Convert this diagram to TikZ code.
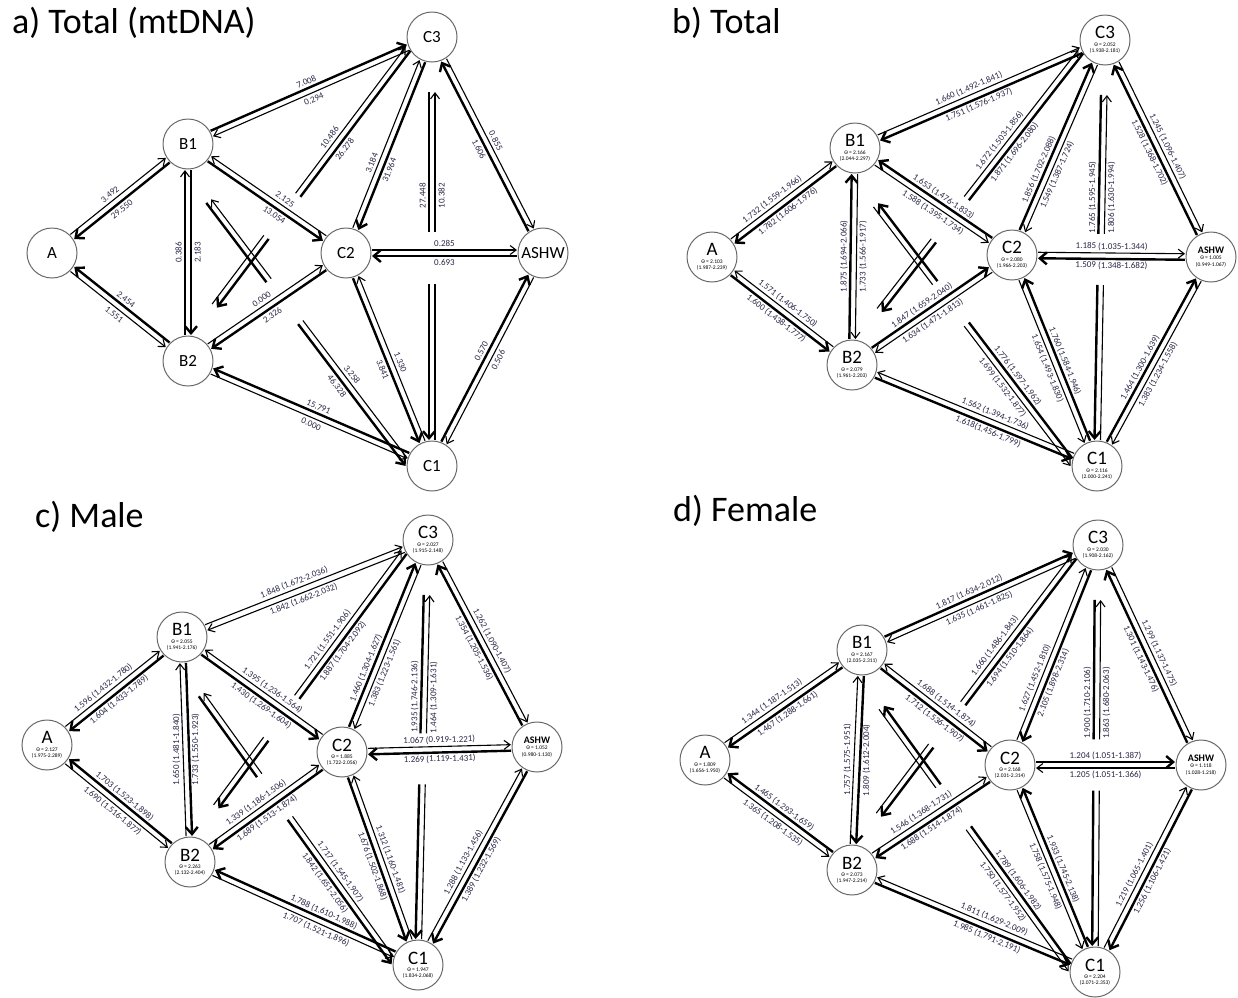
\documentclass[tikz,border=0pt]{standalone}
\usepackage{fontspec}
\setmainfont{Carlito}
\usetikzlibrary{calc,arrows.meta}
\definecolor{labcol}{RGB}{40,40,72}
\definecolor{ncol}{RGB}{105,105,105}
\tikzset{
  nda/.style={circle, draw=ncol, line width=1pt, minimum size=50pt, inner sep=0pt, font=\fontsize{17}{17}\selectfont},
  ndb/.style={circle, draw=ncol, line width=1pt, minimum size=50pt, inner sep=0pt, align=center, font=\fontsize{5.5}{6.3}\selectfont},
  lab/.style={font=\fontsize{9}{9}\selectfont, text=labcol, inner sep=0pt},
  labo/.style={sloped},
  thn/.style={line width=1.1pt, -{Straight Barb[length=6pt,width=9pt]}, shorten <=26pt, shorten >=26pt},
  thk/.style={line width=2.4pt, -{Straight Barb[length=7pt,width=12pt]}, shorten <=26pt, shorten >=26pt},
  ttl/.style={font=\fontsize{36}{36}\selectfont, anchor=base west, inner sep=0pt},
}
\def\gsh{0}
\newcommand\arr[6]{%
  \draw[#4] ($(#1)!#3*3pt!90:(#2)$) -- ($(#2)!#3*3pt!-90:(#1)$);
  \path ($(#1)!#3*9.5pt!90:(#2)$) -- node[lab,labo,pos=#6]{#5} ($(#2)!#3*9.5pt!-90:(#1)$);
}
\newcommand\pair[9]{\arr{#1}{#2}{#3}{#4}{#5}{#6}\arr{#2}{#1}{#3}{#7}{#8}{#9}}
% gapped arrow: P, Q, side, style, label, pos, gap start, gap end ; extra shift \gsh
\newcommand\garr[8]{%
  \pgfmathsetmacro\glo{#3*3+\gsh}\pgfmathsetmacro\glb{#3*9.5+\gsh}%
  \coordinate (gs) at ($(#1)!\glo pt!90:(#2)$);
  \coordinate (ge) at ($(#2)!\glo pt!-90:(#1)$);
  \draw[#4,-,shorten >=0pt] (gs) -- ($(gs)!#7!(ge)$);
  \draw[#4,shorten <=0pt] ($(gs)!#8!(ge)$) -- (ge);
  \path ($(#1)!\glb pt!90:(#2)$) -- node[lab,labo,pos=#6]{#5} ($(#2)!\glb pt!-90:(#1)$);
}
% the two crossing pairs B2<->C3 and B1<->C1
\newcommand\xpairs[9]{%
  \def\gsh{12}\garr{#1B2}{#1C3}{1}{#2,shorten <=60pt,shorten >=24pt}{#3}{0.65}{0.36}{0.49}%
  \def\gsh{-12}\garr{#1C3}{#1B2}{1}{#4,shorten <=24pt,shorten >=60pt}{#5}{0.35}{0.51}{0.64}%
  \def\gsh{-18}\garr{#1B1}{#1C1}{-1}{#6,shorten <=58pt,shorten >=16pt}{#7}{0.70}{0.39}{0.52}%
  \def\gsh{18}\garr{#1C1}{#1B1}{-1}{#8,shorten <=21pt,shorten >=58pt}{#9}{0.30}{0.48}{0.61}%
  \def\gsh{0}}
% the vertical C3<->C1 pair, broken where C2<->ASHW crosses
\newcommand\vpair[5]{%
  {\tikzset{labo/.style={rotate=90}}%
  \garr{#1C3}{#1C1}{-1}{#2,shorten <=55pt}{#3}{0.37}{0.455}{0.575}%
  \garr{#1C1}{#1C3}{-1}{#4,shorten >=55pt}{#5}{0.63}{0.425}{0.545}}}
\newcommand\ndt[3]{{\fontsize{19}{15}\selectfont #1}\\[1pt]Θ = #2\\(#3)}
\newcommand\ndtb[3]{{\fontsize{10}{10}\selectfont\bfseries #1}\\Θ = #2\\(#3)}
\begin{document}
\begin{tikzpicture}[x=1pt,y=-1pt]
\fill[white] (0,0) rectangle (1238,997);
\path[use as bounding box] (0,0) rectangle (1238,997);

% titles
\node[ttl] (ta) at (12,33) {a) Total (mtDNA)};
\node[ttl] (tb) at (672,33) {b) Total};
\node[ttl] (tc) at (35,527) {c) Male};
\node[ttl] (td) at (673,521) {d) Female};

% ---------------- panel a ----------------
\node[nda] (aA) at (52,253) {A};
\node[nda] (aB1) at (188,144) {B1};
\node[nda] (aB2) at (188,361) {B2};
\node[nda] (aC2) at (346,253) {C2};
\node[nda] (aC3) at (432,37) {C3};
\node[nda] (aASHW) at (543,253) {ASHW};
\node[nda] (aC1) at (432,466) {C1};

\pair{aA}{aB1}{1}{thn}{3.492}{0.47}{thk}{29.550}{0.53}
\pair{aA}{aB2}{-1}{thn}{1.551}{0.5}{thk}{2.454}{0.5}
{\tikzset{labo/.style={rotate=90}}
\pair{aB2}{aB1}{1}{thn}{0.386}{0.5}{thk}{2.183}{0.5}}
\pair{aB1}{aC3}{1}{thk}{7.008}{0.5}{thn}{0.294}{0.5}
\pair{aB1}{aC2}{-1}{thk}{13.054}{0.58}{thn}{2.125}{0.42}
\pair{aB2}{aC2}{1}{thn}{0.000}{0.5}{thk}{2.326}{0.5}
\pair{aB2}{aC1}{-1}{thn}{0.000}{0.52}{thk}{15.791}{0.48}
\xpairs{a}{thn}{10.486}{thk}{26.278}{thk}{46.328}{thn}{3.258}
\pair{aC2}{aC3}{1}{thn}{3.184}{0.4}{thk}{31.964}{0.6}
\vpair{a}{thk}{27.448}{thn}{10.382}
\pair{aASHW}{aC3}{1}{thk}{1.606}{0.5}{thn}{0.855}{0.5}
\pair{aC2}{aASHW}{1}{thn}{0.285}{0.5}{thk}{0.693}{0.5}
\pair{aC2}{aC1}{-1}{thk}{3.841}{0.53}{thn}{1.330}{0.47}
\pair{aC1}{aASHW}{1}{thk}{0.570}{0.52}{thn}{0.506}{0.48}

% ---------------- panel b ----------------
\node[ndb] (bA) at (712,257) {\ndt{A}{2.103}{1.987-2.239}};
\node[ndb] (bB1) at (855,148) {\ndt{B1}{2.166}{2.044-2.297}};
\node[ndb] (bB2) at (852,365) {\ndt{B2}{2.079}{1.961-2.203}};
\node[ndb] (bC2) at (1012,255) {\ndt{C2}{2.080}{1.966-2.203}};
\node[ndb] (bC3) at (1105,40) {\ndt{C3}{2.052}{1.938-2.181}};
\node[ndb] (bASHW) at (1211,257) {\ndtb{ASHW}{1.005}{0.949-1.067}};
\node[ndb] (bC1) at (1097,466) {\ndt{C1}{2.116}{2.000-2.241}};

\pair{bA}{bB1}{1}{thn}{1.732 (1.559-1.966)}{0.46}{thk}{1.782 (1.606-1.976)}{0.51}
\pair{bA}{bB2}{-1}{thk}{1.600 (1.438-1.777)}{0.5}{thn}{1.571 (1.406-1.750)}{0.5}
{\tikzset{labo/.style={rotate=90}}
\pair{bB2}{bB1}{1}{thk}{1.875 (1.694-2.066)}{0.5}{thn}{1.733 (1.566-1.917)}{0.5}}
\pair{bB1}{bC3}{1}{thn}{1.660 (1.492-1.841)}{0.47}{thk}{1.751 (1.576-1.937)}{0.52}
\pair{bB1}{bC2}{-1}{thn}{1.588 (1.395-1.734)}{0.53}{thk}{1.653 (1.476-1.833)}{0.47}
\pair{bB2}{bC2}{1}{thk}{1.847 (1.659-2.040)}{0.47}{thn}{1.634 (1.471-1.813)}{0.53}
\pair{bB2}{bC1}{-1}{thk}{1.618(1.456-1.799)}{0.57}{thn}{1.562 (1.394-1.736)}{0.43}
\xpairs{b}{thn}{1.672 (1.503-1.856)}{thk}{1.871 (1.696-2.080)}{thn}{1.699 (1.532-1.877)}{thk}{1.776 (1.597-1.962)}
\pair{bC2}{bC3}{1}{thk}{1.856 (1.702-2.088)}{0.38}{thn}{1.549 (1.387-1.724)}{0.61}
\vpair{b}{thk}{1.765 (1.595-1.945)}{thn}{1.806 (1.630-1.994)}
\pair{bASHW}{bC3}{1}{thk}{1.528 (1.368-1.702)}{0.5}{thn}{1.245 (1.096-1.407)}{0.51}
\pair{bC2}{bASHW}{1}{thn}{1.185 (1.035-1.344)}{0.5}{thk}{1.509 (1.348-1.682)}{0.5}
\pair{bC2}{bC1}{-1}{thn}{1.654 (1.493-1.830)}{0.52}{thk}{1.760 (1.584-1.946)}{0.48}
\pair{bC1}{bASHW}{1}{thk}{1.464 (1.300-1.639)}{0.45}{thn}{1.383 (1.234-1.558)}{0.54}

% ---------------- panel c ----------------
\node[ndb] (cA) at (47,745) {\ndt{A}{2.127}{1.975-2.289}};
\node[ndb] (cB1) at (182,637) {\ndt{B1}{2.055}{1.941-2.176}};
\node[ndb] (cB2) at (190,862) {\ndt{B2}{2.263}{2.132-2.404}};
\node[ndb] (cC2) at (342,752) {\ndt{C2}{1.885}{1.722-2.056}};
\node[ndb] (cC3) at (428,540) {\ndt{C3}{2.027}{1.915-2.148}};
\node[ndb] (cASHW) at (537,747) {\ndtb{ASHW}{1.052}{0.980-1.130}};
\node[ndb] (cC1) at (418,965) {\ndt{C1}{1.947}{1.834-2.068}};

\pair{cA}{cB1}{1}{thn}{1.596 (1.432-1.780)}{0.46}{thk}{1.604 (1.433-1.789)}{0.51}
\pair{cA}{cB2}{-1}{thn}{1.690 (1.516-1.877)}{0.5}{thk}{1.703 (1.523-1.898)}{0.5}
{\tikzset{labo/.style={rotate=90}}
\pair{cB2}{cB1}{1}{thn}{1.650 (1.481-1.840)}{0.5}{thk}{1.733 (1.550-1.923)}{0.5}}
\pair{cB1}{cC3}{1}{thn}{1.848 (1.672-2.036)}{0.47}{thn}{1.842 (1.662-2.032)}{0.52}
\pair{cB1}{cC2}{-1}{thk}{1.430 (1.269-1.604)}{0.53}{thn}{1.395 (1.236-1.564)}{0.47}
\pair{cB2}{cC2}{1}{thn}{1.339 (1.186-1.506)}{0.47}{thk}{1.689 (1.513-1.874)}{0.53}
\pair{cB2}{cC1}{-1}{thn}{1.707 (1.521-1.896)}{0.57}{thk}{1.788 (1.610-1.988)}{0.43}
\xpairs{c}{thn}{1.721 (1.551-1.906)}{thk}{1.887 (1.704-2.092)}{thk}{1.842 (1.651-2.056)}{thn}{1.717 (1.545-1.907)}
\pair{cC2}{cC3}{1}{thk}{1.460 (1.304-1.627)}{0.38}{thn}{1.383 (1.223-1.561)}{0.61}
\vpair{c}{thk}{1.935 (1.746-2.136)}{thn}{1.464 (1.309-1.631)}
\pair{cASHW}{cC3}{1}{thk}{1.354 (1.205-1.536)}{0.5}{thn}{1.262 (1.090-1.407)}{0.51}
\pair{cC2}{cASHW}{1}{thn}{1.067 (0.919-1.221)}{0.5}{thk}{1.269 (1.119-1.431)}{0.5}
\pair{cC2}{cC1}{-1}{thk}{1.676 (1.502-1.868)}{0.52}{thn}{1.312 (1.160-1.481)}{0.48}
\pair{cC1}{cASHW}{1}{thn}{1.288 (1.133-1.456)}{0.45}{thk}{1.389 (1.232-1.569)}{0.54}

% ---------------- panel d ----------------
\node[ndb] (dA) at (705,760) {\ndt{A}{1.809}{1.656-1.950}};
\node[ndb] (dB1) at (862,650) {\ndt{B1}{2.167}{2.035-2.311}};
\node[ndb] (dB2) at (852,870) {\ndt{B2}{2.073}{1.947-2.214}};
\node[ndb] (dC2) at (1010,765) {\ndt{C2}{2.168}{2.031-2.314}};
\node[ndb] (dC3) at (1098,545) {\ndt{C3}{2.030}{1.908-2.162}};
\node[ndb] (dASHW) at (1201,765) {\ndtb{ASHW}{1.118}{1.028-1.218}};
\node[ndb] (dC1) at (1095,972) {\ndt{C1}{2.204}{2.071-2.353}};

\pair{dA}{dB1}{1}{thn}{1.344 (1.187-1.513)}{0.46}{thk}{1.467 (1.288-1.661)}{0.51}
\pair{dA}{dB2}{-1}{thn}{1.365 (1.208-1.535)}{0.5}{thk}{1.465 (1.293-1.659)}{0.5}
{\tikzset{labo/.style={rotate=90}}
\pair{dB2}{dB1}{1}{thn}{1.757 (1.575-1.951)}{0.5}{thk}{1.809 (1.612-2.004)}{0.5}}
\pair{dB1}{dC3}{1}{thk}{1.817 (1.634-2.012)}{0.47}{thn}{1.635 (1.461-1.825)}{0.52}
\pair{dB1}{dC2}{-1}{thk}{1.712 (1.536-1.907)}{0.53}{thn}{1.688 (1.514-1.874)}{0.47}
\pair{dB2}{dC2}{1}{thn}{1.546 (1.368-1.731)}{0.47}{thk}{1.688 (1.514-1.874)}{0.53}
\pair{dB2}{dC1}{-1}{thk}{1.985 (1.791-2.191)}{0.57}{thn}{1.811 (1.629-2.009)}{0.43}
\xpairs{d}{thn}{1.660 (1.486-1.843)}{thk}{1.694 (1.510-1.864)}{thn}{1.750 (1.577-1.952)}{thk}{1.789 (1.606-1.982)}
\pair{dC2}{dC3}{1}{thn}{1.627 (1.452-1.810)}{0.38}{thk}{2.105 (1.898-2.314)}{0.61}
\vpair{d}{thk}{1.900 (1.710-2.106)}{thn}{1.863 (1.680-2.063)}
\pair{dASHW}{dC3}{1}{thk}{1.301 (1.143-1.476)}{0.5}{thn}{1.299 (1.137-1.475)}{0.51}
\pair{dC2}{dASHW}{1}{thk}{1.204 (1.051-1.387)}{0.5}{thn}{1.205 (1.051-1.366)}{0.5}
\pair{dC2}{dC1}{-1}{thn}{1.758 (1.575-1.948)}{0.52}{thk}{1.933 (1.745-2.138)}{0.48}
\pair{dC1}{dASHW}{1}{thn}{1.219 (1.065-1.401)}{0.45}{thk}{1.256 (1.106-1.421)}{0.54}
\end{tikzpicture}
\end{document}
